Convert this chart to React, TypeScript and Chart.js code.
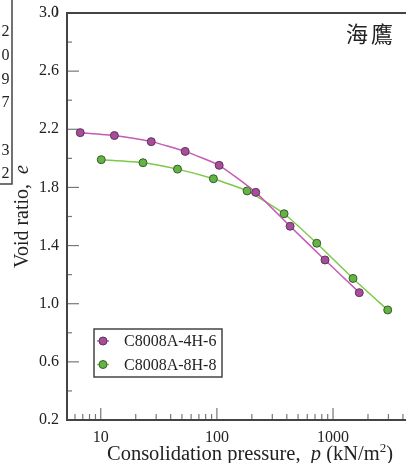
import React, { useEffect, useRef } from 'react';
import { Chart, registerables } from 'chart.js';

Chart.register(...registerables);

// ---- data ----
const series1Label = 'C8008A-4H-6';
const series1Pressure = [6.66, 13.1, 27.2, 53.3, 104.6, 216, 427, 853, 1683];
const series1VoidRatio = [2.177, 2.157, 2.115, 2.048, 1.952, 1.766, 1.533, 1.301, 1.076];

const series2Label = 'C8008A-8H-8';
const series2Pressure = [10.1, 23.1, 45.8, 93.3, 182, 379, 724, 1486, 2958];
const series2VoidRatio = [1.991, 1.97, 1.926, 1.86, 1.776, 1.619, 1.416, 1.174, 0.957];

const xTickLabels = [10, 100, 1000];
const yTickLabels = [0.2, 0.6, 1.0, 1.4, 1.8, 2.2, 2.6, 3.0];
const panelTitle = '海鷹';
const xTitleRuns = [
  { t: 'Consolidation pressure,  ', s: 'normal' },
  { t: 'p', s: 'italic' },
  { t: ' (kN/m', s: 'normal' },
  { t: '2', s: 'sup' },
  { t: ')', s: 'normal' },
];
const yTitleRuns = [
  { t: 'Void ratio,  ', s: 'normal' },
  { t: 'e', s: 'italic' },
];
const sideBoxDigits = ['2', '0', '9', '7', '', '3', '2'];

const SERIF = '"Liberation Serif", "Times New Roman", serif';
const TEXT = '#222';
const AXIS = '#444';

function drawRuns(ctx: CanvasRenderingContext2D, runs: { t: string; s: string }[], size: number, cx: number, baseY: number) {
  const fontFor = (s: string) =>
    s === 'italic' ? `italic ${size}px ${SERIF}` : s === 'sup' ? `${Math.round(size * 0.62)}px ${SERIF}` : `${size}px ${SERIF}`;
  let total = 0;
  const widths = runs.map((r) => {
    ctx.font = fontFor(r.s);
    const w = ctx.measureText(r.t).width;
    total += w;
    return w;
  });
  let x = cx - total / 2;
  ctx.textAlign = 'left';
  ctx.textBaseline = 'alphabetic';
  runs.forEach((r, i) => {
    ctx.font = fontFor(r.s);
    ctx.fillText(r.t, x, r.s === 'sup' ? baseY - size * 0.38 : baseY);
    x += widths[i];
  });
}

const decorPlugin = {
  id: 'decor',
  beforeDatasetsDraw(chart: any) {
    const { ctx, chartArea: a, scales } = chart;
    const x = scales.x;
    const y = scales.y;
    ctx.save();
    // minor/major ticks (inward)
    ctx.strokeStyle = '#777';
    ctx.lineWidth = 1.2;
    x.ticks.forEach((t: any) => {
      const v = t.value;
      const exp = Math.floor(Math.log10(v) + 1e-9);
      const m = v / Math.pow(10, exp);
      if (Math.abs(m - Math.round(m)) > 1e-6) return;
      const px = x.getPixelForValue(v);
      if (px <= a.left + 1 || px >= a.right - 0.5) return;
      const major = xTickLabels.includes(v);
      ctx.beginPath();
      ctx.moveTo(px, a.bottom);
      ctx.lineTo(px, a.bottom - (major ? 12 : 6));
      ctx.stroke();
    });
    const yt = y.ticks.map((t: any) => t.value);
    yt.forEach((v: number, i: number) => {
      const py = y.getPixelForValue(v);
      ctx.beginPath();
      ctx.moveTo(a.left, py);
      ctx.lineTo(a.left + 12, py);
      ctx.stroke();
      if (i < yt.length - 1) {
        const pm = y.getPixelForValue((v + yt[i + 1]) / 2);
        ctx.beginPath();
        ctx.moveTo(a.left, pm);
        ctx.lineTo(a.left + 5, pm);
        ctx.stroke();
      }
    });
    // axes + top border
    ctx.strokeStyle = AXIS;
    ctx.lineWidth = 2;
    ctx.beginPath();
    ctx.moveTo(a.right, a.top);
    ctx.lineTo(a.left, a.top);
    ctx.lineTo(a.left, a.bottom);
    ctx.lineTo(a.right, a.bottom);
    ctx.stroke();
    ctx.restore();
  },
  afterDraw(chart: any) {
    const { ctx, chartArea: a } = chart;
    ctx.save();
    ctx.fillStyle = TEXT;
    // axis titles
    drawRuns(ctx, xTitleRuns, 20.5, a.left + 183, a.bottom + 40);
    ctx.save();
    ctx.translate(28, (a.top + a.bottom) / 2);
    ctx.rotate(-Math.PI / 2);
    drawRuns(ctx, yTitleRuns, 20, 0, 0);
    ctx.restore();

    // panel title
    ctx.font = `22px "Noto Sans CJK TC", "Noto Sans CJK JP", sans-serif`;
    (ctx as any).letterSpacing = '3px';
    ctx.textAlign = 'right';
    ctx.textBaseline = 'middle';
    ctx.fillText(panelTitle, a.left + 329, a.top + 20.5);
    (ctx as any).letterSpacing = '0px';

    // legend
    const lx = a.left + 27;
    const ly = a.top + 316;
    ctx.strokeStyle = AXIS;
    ctx.lineWidth = 1.5;
    ctx.strokeRect(lx, ly, 128, 48);
    chart.data.datasets.forEach((ds: any, i: number) => {
      const cy = ly + 12 + i * 23.5;
      ctx.strokeStyle = ds.borderColor;
      ctx.lineWidth = 1.5;
      ctx.beginPath();
      ctx.moveTo(lx + 3, cy);
      ctx.lineTo(lx + 15, cy);
      ctx.stroke();
      ctx.beginPath();
      ctx.arc(lx + 9, cy, 4, 0, Math.PI * 2);
      ctx.fillStyle = ds.pointBackgroundColor;
      ctx.fill();
      ctx.strokeStyle = ds.pointBorderColor;
      ctx.lineWidth = 1;
      ctx.stroke();
      ctx.fillStyle = TEXT;
      ctx.font = `16px ${SERIF}`;
      ctx.textAlign = 'left';
      ctx.textBaseline = 'middle';
      ctx.fillText(ds.label, lx + 30, cy + 1);
    });

    // neighbouring panel fragment on the left
    ctx.strokeStyle = AXIS;
    ctx.lineWidth = 1.5;
    ctx.beginPath();
    ctx.moveTo(12, 0);
    ctx.lineTo(12, 184);
    ctx.lineTo(0, 184);
    ctx.stroke();
    ctx.fillStyle = TEXT;
    ctx.font = `16px ${SERIF}`;
    ctx.textAlign = 'right';
    ctx.textBaseline = 'middle';
    sideBoxDigits.forEach((d, i) => {
      if (d) ctx.fillText(d, 9.5, 32 + i * 23.7);
    });
    ctx.textAlign = 'left';
    ctx.font = `13px ${SERIF}`;
    ctx.fillText(')', 54, 11);
    ctx.restore();
  },
};

export default function App() {
  const ref = useRef<HTMLCanvasElement | null>(null);
  useEffect(() => {
    if (!ref.current) return;
    const chart = new Chart(ref.current, {
      type: 'line',
      data: {
        datasets: [
          {
            label: series1Label,
            data: series1Pressure.map((p, i) => ({ x: p, y: series1VoidRatio[i] })),
            borderColor: '#c45bb6',
            backgroundColor: '#a84c9c',
            pointBackgroundColor: '#a84c9c',
            pointBorderColor: '#5b3556',
            pointBorderWidth: 1,
            pointRadius: 4,
            borderWidth: 1.5,
            tension: 0.15,
          },
          {
            label: series2Label,
            data: series2Pressure.map((p, i) => ({ x: p, y: series2VoidRatio[i] })),
            borderColor: '#7cc947',
            backgroundColor: '#62b443',
            pointBackgroundColor: '#62b443',
            pointBorderColor: '#3a5a30',
            pointBorderWidth: 1,
            pointRadius: 4,
            borderWidth: 1.5,
            tension: 0.15,
          },
        ],
      },
      options: {
        animation: false,
        responsive: false,
        devicePixelRatio: 1,
        layout: { autoPadding: false, padding: { left: 0, top: 13, right: 0, bottom: 0 } },
        plugins: { legend: { display: false }, tooltip: { enabled: false }, title: { display: false } },
        scales: {
          x: {
            type: 'logarithmic',
            min: 5.12,
            max: 4250,
            grid: { display: false, drawTicks: true, tickLength: 8 },
            border: { display: false },
            ticks: {
              autoSkip: false,
              maxRotation: 0,
              padding: 0,
              color: TEXT,
              font: { family: SERIF, size: 16 },
              callback: (v: any) => (xTickLabels.includes(Number(v)) ? String(v) : ''),
            },
            afterFit: (s: any) => {
              s.height = 43;
            },
          },
          y: {
            type: 'linear',
            min: yTickLabels[0],
            max: yTickLabels[yTickLabels.length - 1],
            grid: { display: false, drawTicks: true, tickLength: 8 },
            border: { display: false },
            ticks: {
              stepSize: 0.4,
              padding: 0,
              color: TEXT,
              font: { family: SERIF, size: 16 },
              callback: (v: any) => Number(v).toFixed(1),
            },
            afterFit: (s: any) => {
              s.width = 67;
            },
          },
        },
      } as any,
      plugins: [decorPlugin],
    });
    return () => chart.destroy();
  }, []);
  return (
    <div style={{ position: 'fixed', left: 0, top: 0, width: 406, height: 463, background: '#fff' }}>
      <canvas ref={ref} width={406} height={463} style={{ display: 'block' }} />
    </div>
  );
}
